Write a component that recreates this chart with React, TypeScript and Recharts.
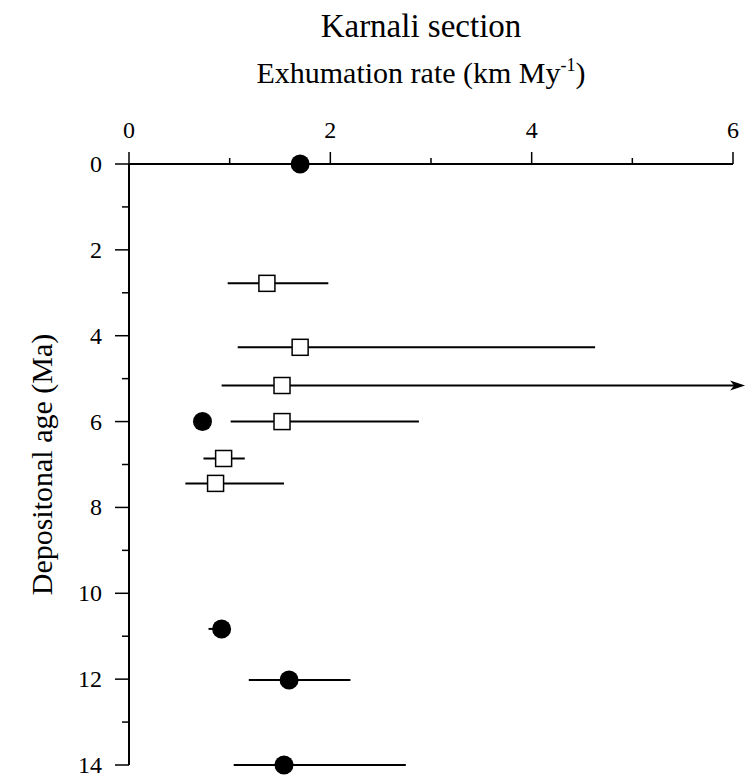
import React from 'react';
import {
  ScatterChart,
  Scatter,
  XAxis,
  YAxis,
  ErrorBar,
  ReferenceLine,
  Label
} from 'recharts';

// Filled circles
const circleAge = [0, 6.0, 10.83, 12.02, 14.0];
const circleRate = [1.7, 0.73, 0.92, 1.59, 1.54];
const circleLow = [1.7, 0.73, 0.79, 1.19, 1.04];
const circleHigh = [1.7, 0.73, 0.98, 2.2, 2.75];

// Open squares (one has an open-ended upper bound, drawn as an arrow)
const squareAge = [2.78, 4.27, 5.16, 6.0, 6.86, 7.44];
const squareRate = [1.37, 1.7, 1.52, 1.52, 0.94, 0.86];
const squareLow = [0.98, 1.08, 0.92, 1.01, 0.74, 0.56];
const squareHigh = [1.98, 4.63, 6.12, 2.88, 1.15, 1.54];
const squareOpenEnded = [false, false, true, false, false, false];

const xTicks = [0, 1, 2, 3, 4, 5, 6];
const yTicks = [0, 1, 2, 3, 4, 5, 6, 7, 8, 9, 10, 11, 12, 13, 14];

const FONT = '"Liberation Serif", "Times New Roman", serif';

const circles = circleAge.map((age, i) => ({
  age,
  rate: circleRate[i],
  err: [circleRate[i] - circleLow[i], circleHigh[i] - circleRate[i]]
}));

const squares = squareAge.map((age, i) => ({
  age,
  rate: squareRate[i],
  err: squareOpenEnded[i] ? null : [squareRate[i] - squareLow[i], squareHigh[i] - squareRate[i]]
}));

const arrows = squareAge
  .map((age, i) => ({ age, low: squareLow[i], high: squareHigh[i], open: squareOpenEnded[i] }))
  .filter((d) => d.open);

const Dot = (props: any) => <circle cx={props.cx} cy={props.cy} r={9.5} fill="#000" />;

const Box = (props: any) => (
  <rect x={props.cx - 8} y={props.cy - 8} width={16} height={16} fill="#fff" stroke="#000" strokeWidth={1.5} />
);

const ArrowLine = (props: any) => {
  const { x1, y1, x2, y2 } = props;
  return (
    <g>
      <line x1={x1} y1={y1} x2={x2 - 8} y2={y2} stroke="#000" strokeWidth={2} />
      <path d={`M${x2},${y2} L${x2 - 15},${y2 - 5} L${x2 - 11},${y2} L${x2 - 15},${y2 + 5} Z`} fill="#000" />
    </g>
  );
};

const XTick = (props: any) => {
  const { x, y, payload } = props;
  const major = payload.value % 2 === 0;
  return (
    <g>
      <line x1={x} y1={y} x2={x} y2={y - (major ? 12 : 6)} stroke="#000" strokeWidth={1.5} />
      {major && (
        <text x={x} y={y - 26} textAnchor="middle" fontFamily={FONT} fontSize={24} fill="#000">
          {payload.value}
        </text>
      )}
    </g>
  );
};

const YTick = (props: any) => {
  const { x, y, payload } = props;
  const major = payload.value % 2 === 0;
  return (
    <g>
      <line x1={x - (major ? 14 : 7)} y1={y} x2={x} y2={y} stroke="#000" strokeWidth={1.5} />
      {major && (
        <text x={x - 27} y={y + 8} textAnchor="end" fontFamily={FONT} fontSize={24} fill="#000">
          {payload.value}
        </text>
      )}
    </g>
  );
};

const Titles = (props: any) => {
  const { viewBox } = props;
  const cx = viewBox.x + viewBox.width / 2 - 10;
  return (
    <g fontFamily={FONT} fill="#000">
      <text x={cx} y={37} textAnchor="middle" fontSize={33}>
        Karnali section
      </text>
      <text x={cx} y={83} textAnchor="middle" fontSize={30}>
        Exhumation rate (km My
        <tspan fontSize={18} dy={-12}>-1</tspan>
        <tspan dy={12}>)</tspan>
      </text>
    </g>
  );
};

const YTitle = (props: any) => {
  const { viewBox } = props;
  const cy = viewBox.y + viewBox.height / 2;
  return (
    <text
      transform={`translate(52, ${cy}) rotate(-90)`}
      textAnchor="middle"
      fontFamily={FONT}
      fontSize={30}
      fill="#000"
    >
      Depositonal age (Ma)
    </text>
  );
};

export default function App() {
  return (
    <div style={{ position: 'absolute', left: 0, top: 0, width: 755, height: 779, background: '#fff' }}>
      <ScatterChart width={755} height={779} margin={{ top: 0, right: 22, bottom: 14, left: 0 }}>
        <XAxis
          type="number"
          dataKey="rate"
          orientation="top"
          domain={[0, 6]}
          ticks={xTicks}
          height={164}
          tickSize={0}
          tickMargin={0}
          tickLine={false}
          tick={<XTick />}
          axisLine={{ stroke: '#000', strokeWidth: 2 }}
        >
          <Label content={<Titles />} />
        </XAxis>
        <YAxis
          type="number"
          dataKey="age"
          domain={[0, 14]}
          reversed
          ticks={yTicks}
          width={129}
          tickSize={0}
          tickMargin={0}
          tickLine={false}
          tick={<YTick />}
          axisLine={{ stroke: '#000', strokeWidth: 2 }}
        >
          <Label content={<YTitle />} />
        </YAxis>

        {arrows.map((a) => (
          <ReferenceLine
            key={a.age}
            segment={[{ x: a.low, y: a.age }, { x: a.high, y: a.age }]}
            ifOverflow="visible"
            shape={ArrowLine}
          />
        ))}

        <Scatter data={squares} shape={Box} isAnimationActive={false}>
          <ErrorBar dataKey="err" direction="x" width={0} stroke="#000" strokeWidth={2} />
        </Scatter>
        <Scatter data={circles} shape={Dot} isAnimationActive={false}>
          <ErrorBar dataKey="err" direction="x" width={0} stroke="#000" strokeWidth={2} />
        </Scatter>
      </ScatterChart>
    </div>
  );
}
